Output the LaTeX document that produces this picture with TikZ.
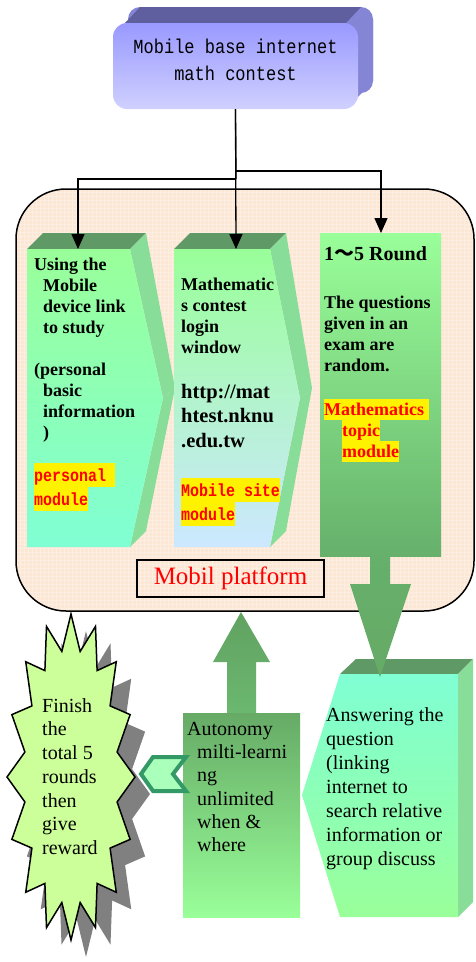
\documentclass[tikz,border=0pt]{standalone}
\usepackage{fontspec}
\setmainfont{Liberation Serif}
\newfontfamily\monofont[FakeStretch=0.85]{Liberation Mono}
\newfontfamily\cjk{Noto Sans CJK SC}
\usetikzlibrary{arrows.meta}

\definecolor{titleTop}{HTML}{9999FF}
\definecolor{titleBot}{HTML}{D0D0FF}
\definecolor{titleLid}{HTML}{5F5FA0}
\definecolor{titleSide}{HTML}{8585D6}
\definecolor{lidGreen}{HTML}{5F9966}
\definecolor{sideGreen}{HTML}{88DD99}
\definecolor{paleGreen}{HTML}{99FF99}
\definecolor{aqua}{HTML}{80FFD4}
\definecolor{iceBlue}{HTML}{CCE8FF}
\definecolor{deepGreen}{HTML}{66B06B}
\definecolor{arrowGreen}{HTML}{66AA66}
\definecolor{peach}{HTML}{FCE6D4}
\definecolor{burstFill}{HTML}{CCFF99}
\definecolor{chevDark}{HTML}{339966}
\definecolor{chevLight}{HTML}{AAFFBB}

% yellow highlight behind a line of text: depth, total height, text
\newcommand{\hlbox}[3]{{\setlength{\fboxsep}{0pt}\colorbox{yellow}{\rule[-#1]{0pt}{#2}#3}}}

\begin{document}
\begin{tikzpicture}[x=1pt,y=-1pt,
  conn/.style={draw=black,line width=1.3pt,-{Triangle[length=15pt,width=13pt]}},
  txt/.style={inner sep=0pt,anchor=north west,align=left},
  boldtxt/.style={txt,font=\fontsize{18}{21}\selectfont\bfseries},
  plaintxt/.style={txt,font=\fontsize{20}{24}\selectfont},
  redmono/.style={txt,text=red,font=\fontsize{17.6}{24}\selectfont\monofont\bfseries},
  lid/.style={fill=lidGreen},
  side/.style={fill=sideGreen},
]
\useasboundingbox (0,0) rectangle (475,962);

% ---------- title block ----------
\fill[titleSide,rounded corners=12pt] (128,7) rectangle (373,93);
\fill[titleLid] (125,23) -- (140,7) -- (361,7) -- (346,23) -- cycle;
\fill[titleSide] (358,35) -- (373,19) -- (373,81) -- (358,97) -- cycle;
\node[shade,top color=titleTop,bottom color=titleBot,rounded corners=14pt,
      minimum width=245pt,minimum height=86pt,inner sep=0pt] (title) at (235.5,66) {};
\node[inner sep=0pt,align=center,font=\fontsize{20}{27}\selectfont\monofont] (titletext)
  at (235.5,60) {Mobile base internet\\math contest};

% ---------- platform frame ----------
\fill[peach,rounded corners=50pt] (16,189) rectangle (474,611);
\begin{scope}
  \clip[rounded corners=50pt] (16,189) rectangle (474,611);
  \draw[white,opacity=0.35,line width=0.8pt,step=4pt] (16,189) grid (474,611);
\end{scope}
\draw[line width=1.5pt,rounded corners=50pt] (16,189) rectangle (474,611);

% ---------- module 1 (chevron) ----------
\fill[lid] (27,249) -- (43,233) -- (146,233) -- (130,249) -- cycle;
\fill[side] (130,249) -- (146,233) -- (175,388) -- (163,398) -- cycle;
\fill[side] (163,398) -- (175,388) -- (146,531) -- (130,547) -- cycle;
\shade[top color=paleGreen,bottom color=aqua]
  (27,249) -- (130,249) -- (163,398) -- (130,547) -- (27,547) -- cycle;
\coordinate (m1top) at (78,249);

% ---------- module 2 (chevron) ----------
\fill[lid] (174,249) -- (190,233) -- (286,233) -- (270,249) -- cycle;
\fill[side] (270,249) -- (286,233) -- (312,388) -- (300,398) -- cycle;
\fill[side] (300,398) -- (312,388) -- (286,531) -- (270,547) -- cycle;
\shade[top color=paleGreen,middle color=paleGreen!45!iceBlue,bottom color=iceBlue]
  (174,249) -- (270,249) -- (300,398) -- (270,547) -- (174,547) -- cycle;
\coordinate (m2top) at (236,249);

% ---------- module 3 ----------
\node[shade,top color=paleGreen,bottom color=deepGreen,inner sep=0pt,
      minimum width=121pt,minimum height=323pt] (m3) at (380.5,394.5) {};

% ---------- module texts ----------
\node[boldtxt] (m1text) at (34,255.3) {\strut Using the\\
  \hspace*{9pt}Mobile\\ \hspace*{9pt}device link\\ \hspace*{9pt}to study\\ \strut\\
  (personal\\ \hspace*{9pt}basic\\ \hspace*{9pt}information\\ \hspace*{9pt})};
\node[redmono] (m1red) at (34,463) {\hlbox{6pt}{24pt}{personal }\\\hlbox{6pt}{24pt}{module}};

\node[boldtxt] (m2text) at (181,275.3) {\strut Mathematic\\s contest\\login\\window};
\node[txt,font=\fontsize{20.5}{24.5}\selectfont\bfseries] (m2url) at (181,380.8)
  {\strut http://mat\\htest.nknu\\.edu.tw};
\node[redmono] (m2red) at (181,478) {\hlbox{6pt}{24pt}{Mobile site}\\\hlbox{6pt}{24pt}{module}};

\node[txt,font=\fontsize{20}{24}\selectfont\bfseries] (m3head) at (324,243.2)
  {\strut 1{\cjk ～}5 Round};
\node[boldtxt] (m3text) at (324,293.3) {\strut The questions\\given in an\\exam are\\random.};
\node[txt,text=red,font=\fontsize{18}{21}\selectfont\bfseries] (m3red) at (324,399)
  {\hlbox{5pt}{21pt}{Mathematics }\\\hspace*{18pt}\hlbox{5pt}{21pt}{topic}\\
   \hspace*{18pt}\hlbox{5pt}{21pt}{module}};

\node[draw,line width=1.3pt,minimum width=187pt,minimum height=37pt,inner sep=0pt,
      text=red,font=\fontsize{25}{28}\selectfont] (platform) at (230.5,578.5) {Mobil platform};

% ---------- connectors from the title ----------
\coordinate (j1) at (236,179);
\coordinate (j2) at (236,171);
\coordinate (m3top) at (381,233);
\draw[conn] (title.south) -- (m2top);
\draw[line width=1.3pt] (title.south) -- (j1);
\draw[conn] (j1) -| (m1top);
\draw[conn] (j2) -| (m3top);

% ---------- answering block (3D, pointing left) ----------
\fill[lid] (340,674) -- (356,659) -- (473,659) -- (458,674) -- cycle;
\fill[side] (458,674) -- (473,659) -- (473,902) -- (458,917) -- cycle;
\shade[top color=aqua,bottom color=paleGreen]
  (340,674) -- (458,674) -- (458,917) -- (340,917) -- (302,795) -- cycle;
\node[plaintxt] (answer) at (326,704.2) {\strut Answering the\\question\\(linking\\
  internet to\\search relative\\information or\\group discuss};

% ---------- block arrows ----------
\shade[top color=deepGreen,bottom color=arrowGreen]
  (370,556) -- (390,556) -- (390,584) -- (411,584) -- (380,677) -- (350,584) -- (370,584) -- cycle;
\shade[top color=arrowGreen!95!black,bottom color=deepGreen!90!paleGreen]
  (241,612) -- (270,662) -- (256,662) -- (256,713) -- (227,713) -- (227,662) -- (213,662) -- cycle;

% ---------- reward burst ----------
\fill[gray] plot[samples at={0,1,...,31},variable=\k]
  ({86+ifthenelse(mod(\k,2)==0,64,47)*cos(90-\k*11.25)},
   {794-ifthenelse(mod(\k,2)==0,163,128)*sin(90-\k*11.25)}) -- cycle;
\draw[fill=burstFill,line width=1.5pt,line join=miter] plot[samples at={0,1,...,31},variable=\k]
  ({71+ifthenelse(mod(\k,2)==0,64,47)*cos(90-\k*11.25)},
   {777-ifthenelse(mod(\k,2)==0,163,128)*sin(90-\k*11.25)}) -- cycle;
\node[txt,font=\fontsize{20}{23.7}\selectfont] (reward) at (42,695.4)
  {\strut Finish\\the\\total 5\\rounds\\then\\give\\reward};

% ---------- autonomy block ----------
\node[shade,top color=arrowGreen,bottom color=paleGreen,inner sep=0pt,
      minimum width=117pt,minimum height=204pt] (auto) at (241.5,815) {};
\node[txt,font=\fontsize{20}{23.3}\selectfont] (autotext) at (187,718.7)
  {\strut Autonomy\\\hspace*{10pt}milti-learni\\\hspace*{10pt}ng\\\hspace*{10pt}unlimited\\
   \hspace*{10pt}when \&\\\hspace*{10pt}where};

% chevron link pointing to the burst
\draw[fill=chevLight,draw=chevDark,line width=4pt,line join=miter]
  (141,774) -- (153,757) -- (186,757) -- (173,774) -- (186,791) -- (153,791) -- cycle;
\end{tikzpicture}
\end{document}
